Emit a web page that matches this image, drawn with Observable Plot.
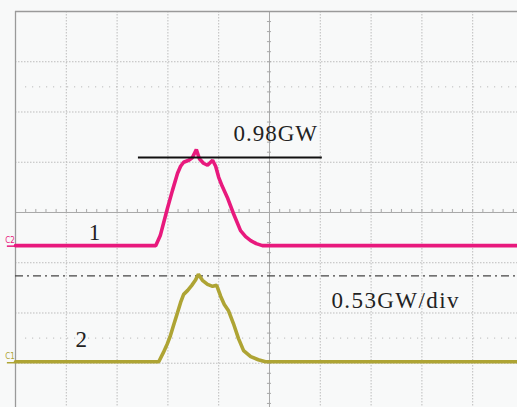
<!DOCTYPE html>
<html>
<head>
<meta charset="utf-8">
<script src="https://cdn.jsdelivr.net/npm/d3@7"></script>
<script src="https://cdn.jsdelivr.net/npm/@observablehq/plot@0.6"></script>
<style>
  html, body { margin: 0; padding: 0; background: #ffffff; }
  #chart svg { display: block; }
</style>
</head>
<body>
<div id="chart"></div>
<script>
const trace1T = [0, 2.76, 2.85, 2.99, 3.09, 3.19, 3.25, 3.31, 3.41, 3.48, 3.56, 3.62, 3.70, 3.78, 3.88, 3.94, 4.00, 4.07, 4.17, 4.29, 4.43, 4.53, 4.63, 4.74, 4.86, 9.9];
const trace1V = [-0.66, -0.66, -0.46, 0.08, 0.44, 0.78, 0.92, 1.00, 1.04, 1.09, 1.25, 1.07, 0.98, 0.94, 1.04, 0.92, 0.70, 0.52, 0.30, -0.02, -0.36, -0.48, -0.56, -0.62, -0.66, -0.66];
const trace2T = [0, 2.82, 2.91, 2.99, 3.05, 3.11, 3.19, 3.25, 3.31, 3.39, 3.47, 3.54, 3.60, 3.68, 3.78, 3.88, 3.96, 4.04, 4.11, 4.19, 4.29, 4.39, 4.49, 4.63, 4.78, 4.92, 9.9];
const trace2V = [-2.97, -2.97, -2.79, -2.61, -2.45, -2.25, -1.99, -1.79, -1.63, -1.55, -1.45, -1.35, -1.23, -1.35, -1.43, -1.47, -1.45, -1.67, -1.83, -1.95, -2.21, -2.51, -2.75, -2.87, -2.93, -2.97, -2.97];

const gridX = [1, 2, 3, 4, 6, 7, 8, 9];
const gridY = [3, 2, 1, -1, -2, -3];
const dottedY = [2.5, -2.5];
const dashDotY = [-1.26];
const cursorY = [1.095];
const cursorX1 = [2.42];
const cursorX2 = [6.04];

const labelText = ["0.98GW", "0.53GW/div", "1", "2"];
const labelX = [4.29, 6.22, 1.44, 1.18];
const labelY = [1.56, -1.76, -0.40, -2.54];

const chanText = ["C2", "C1"];
const chanY = [-0.67, -2.99];
const chanColor = ["#e8197d", "#aea434"];

const pink = "#e8197d";
const olive = "#aea434";

const t1 = trace1T.map((t, i) => ({t, v: trace1V[i]}));
const t2 = trace2T.map((t, i) => ({t, v: trace2V[i]}));
const labels = labelText.map((s, i) => ({s, x: labelX[i], y: labelY[i]}));
const chans = chanText.map((s, i) => ({s, y: chanY[i], c: chanColor[i]}));
const minorX = d3.range(0, 10.01, 0.2);
const minorY = d3.range(-4, 4.01, 0.2);

const chart = Plot.plot({
  width: 517,
  height: 407,
  marginLeft: 15,
  marginTop: 11,
  marginRight: 0,
  marginBottom: 0,
  x: {domain: [0, 9.882], axis: null},
  y: {domain: [-3.881, 4], axis: null},
  style: {background: "#f8f9f9", overflow: "visible"},
  marks: [
    // grid
    Plot.ruleX(gridX, {stroke: "#bdbdbd", strokeWidth: 1, strokeDasharray: "1.5,1.5"}),
    Plot.ruleY(gridY, {stroke: "#bdbdbd", strokeWidth: 1, strokeDasharray: "1.5,1.5"}),
    Plot.ruleY(dottedY, {x1: 0.2, x2: 9.882, stroke: "#b0b0b0", strokeWidth: 1, strokeDasharray: "1,6"}),
    // centre axes with minor ticks
    Plot.ruleX([5], {stroke: "#a8a8a8", strokeWidth: 1}),
    Plot.ruleY([0], {stroke: "#a8a8a8", strokeWidth: 1}),
    Plot.ruleX(minorX, {x: d => d, y1: 0, y2: 0.06, stroke: "#a8a8a8", strokeWidth: 1}),
    Plot.ruleY(minorY, {y: d => d, x1: 4.96, x2: 5.04, stroke: "#a8a8a8", strokeWidth: 1}),
    // frame (top and left)
    Plot.ruleY([4], {stroke: "#9a9a9a", strokeWidth: 1.3}),
    Plot.ruleX([0], {stroke: "#9a9a9a", strokeWidth: 1.3}),
    // dash-dot reference
    Plot.ruleY(dashDotY, {stroke: "#444", strokeWidth: 1.2, strokeDasharray: "8,4,2,4"}),
    // traces
    Plot.line(t1, {x: "t", y: "v", stroke: pink, strokeWidth: 3.6, strokeLinejoin: "miter"}),
    Plot.line(t2, {x: "t", y: "v", stroke: olive, strokeWidth: 3.6, strokeLinejoin: "miter"}),
    // cursor line
    Plot.ruleY(cursorY, {x1: cursorX1[0], x2: cursorX2[0], stroke: "#111", strokeWidth: 2}),
    // channel markers
    Plot.ruleY(chans, {y: "y", x1: -0.16, x2: 0, stroke: "c", strokeWidth: 1.5}),
    Plot.text(chans, {x: -0.2, y: d => d.y + 0.12, text: "s", fill: "c", fontSize: 8, textAnchor: "start", fontFamily: "DejaVu Sans Condensed, DejaVu Sans"}),
    // annotations
    Plot.text(labels, {x: "x", y: "y", text: "s", textAnchor: "start", lineAnchor: "middle", fontSize: 23, fill: "#222", fontFamily: "Liberation Serif"})
  ]
});

d3.select(chart).selectAll("text").each(function() {
  const s = this.textContent;
  if (s === "0.98GW") this.setAttribute("letter-spacing", "1");
  if (s === "0.53GW/div") this.setAttribute("letter-spacing", "1.4");
});

document.getElementById("chart").appendChild(chart);
</script>
</body>
</html>
